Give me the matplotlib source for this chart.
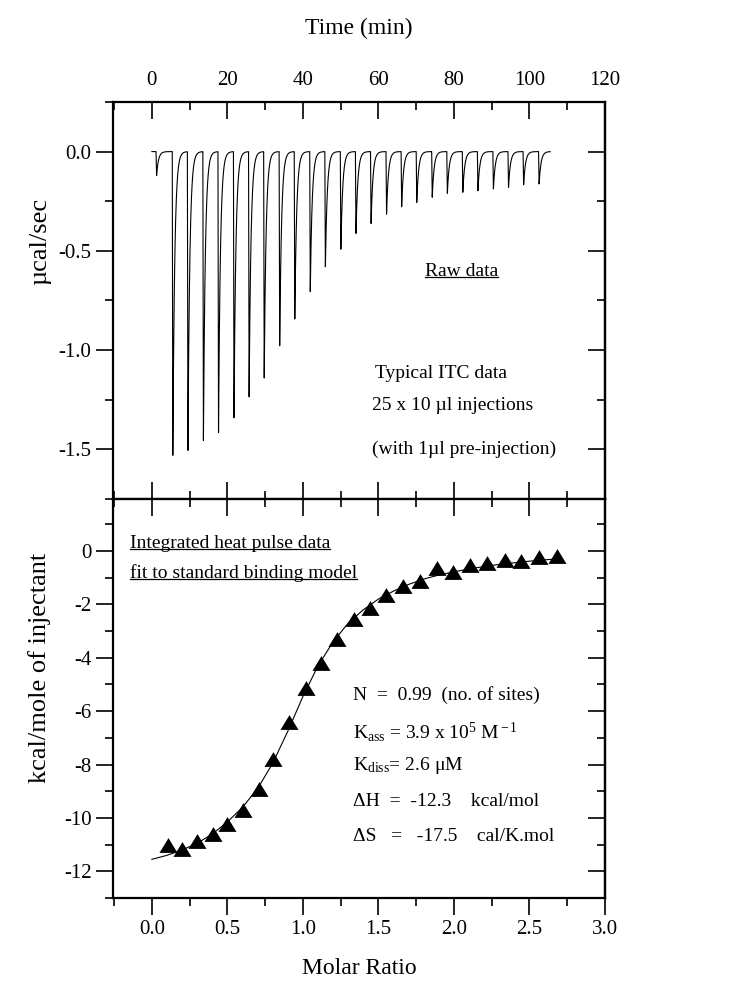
import matplotlib.pyplot as plt
import numpy as np
from matplotlib.ticker import MultipleLocator, FormatStrFormatter
from matplotlib.lines import Line2D

plt.rcParams['font.family'] = ['Liberation Serif', 'DejaVu Serif']
plt.rcParams['mathtext.fontset'] = 'custom'
plt.rcParams['mathtext.rm'] = 'Liberation Serif'
plt.rcParams['mathtext.it'] = 'Liberation Serif:italic'
plt.rcParams['axes.unicode_minus'] = False

# raw data: injection times (min) and peak heights (ucal/sec), first one is the 1 ul pre-injection
inj_time = [1.1, 5.4, 9.4, 13.5, 17.5, 21.6, 25.6, 29.6, 33.7, 37.7, 41.8, 45.8, 49.9,
            53.9, 57.9, 62.0, 66.0, 70.0, 74.1, 78.1, 82.2, 86.2, 90.3, 94.3, 98.3, 102.4]
inj_peak = [-0.12, -1.53, -1.505, -1.455, -1.415, -1.34, -1.235, -1.14, -0.978, -0.843,
            -0.705, -0.58, -0.492, -0.412, -0.362, -0.315, -0.278, -0.256, -0.23, -0.21,
            -0.205, -0.197, -0.188, -0.18, -0.167, -0.163]
t_end = 105.5

# integrated heats (kcal/mole of injectant) vs molar ratio
molar = [0.104, 0.198, 0.302, 0.403, 0.500, 0.606, 0.712, 0.805, 0.910, 1.02, 1.118, 1.224,
         1.338, 1.444, 1.550, 1.660, 1.775, 1.885, 1.995, 2.105, 2.22, 2.337, 2.447, 2.564, 2.679]
heat = [-11.03, -11.15, -10.88, -10.61, -10.24, -9.69, -8.90, -7.78, -6.40, -5.15, -4.19, -3.28,
        -2.55, -2.15, -1.65, -1.30, -1.11, -0.65, -0.78, -0.53, -0.43, -0.34, -0.36, -0.21, -0.18]

# fitted binding curve
fit_x = [0.0, 0.1, 0.2, 0.3, 0.4, 0.5, 0.6, 0.7, 0.8, 0.9, 1.0, 1.1, 1.2, 1.3, 1.4,
         1.5, 1.6, 1.7, 1.8, 1.9, 2.0, 2.1, 2.2, 2.3, 2.4, 2.5, 2.6, 2.7]
fit_y = [-11.55, -11.4, -11.2, -10.95, -10.6, -10.15, -9.6, -8.9, -7.95, -6.75, -5.45, -4.3,
         -3.4, -2.7, -2.2, -1.8, -1.5, -1.25, -1.05, -0.9, -0.78, -0.67, -0.58, -0.5, -0.44,
         -0.38, -0.33, -0.29]

fig = plt.figure(figsize=(7.37, 9.91), dpi=100)
ax1 = fig.add_axes([0.1533, 0.4965, 0.6676, 0.4006])
ax2 = fig.add_axes([0.1533, 0.0938, 0.6676, 0.4027])

# build the thermogram trace from the peaks
t = np.arange(0, t_end, 0.01)
y = np.zeros_like(t)
for t0, h in zip(inj_time, inj_peak):
    s = t - t0
    down = (s >= 0) & (s < 0.15)
    y[down] += h * s[down] / 0.15
    up = s >= 0.15
    y[up] += h * np.exp(-(s[up] - 0.15) / 0.5)
ax1.plot(t, y, color='k', lw=0.8)

tri = [(-1, -0.82), (1, -0.82), (0, 0.82), (-1, -0.82)]
ax2.plot(fit_x, fit_y, color='k', lw=0.8)
ax2.plot(molar, heat, linestyle='none', marker=tri, color='k', markersize=13, markeredgewidth=0)

# axes ranges and ticks
ax1.set_xlim(-10.3, 120)
ax1.set_ylim(-1.75, 0.25)
ax2.set_xlim(-0.2575, 3.0)
ax2.set_ylim(-13, 1.95)

ax1.xaxis.set_major_locator(MultipleLocator(20))
ax1.xaxis.set_minor_locator(MultipleLocator(10))
ax1.yaxis.set_major_locator(MultipleLocator(0.5))
ax1.yaxis.set_minor_locator(MultipleLocator(0.25))
ax1.yaxis.set_major_formatter(FormatStrFormatter('%.1f'))
ax2.xaxis.set_major_locator(MultipleLocator(0.5))
ax2.xaxis.set_minor_locator(MultipleLocator(0.25))
ax2.xaxis.set_major_formatter(FormatStrFormatter('%.1f'))
ax2.yaxis.set_major_locator(MultipleLocator(2))
ax2.yaxis.set_minor_locator(MultipleLocator(1))

fs_tick = 15
for ax in (ax1, ax2):
    for sp in ax.spines.values():
        sp.set_linewidth(1.6)
    ax.tick_params(which='major', length=12, width=1.2, labelsize=fs_tick)
    ax.tick_params(which='minor', length=6, width=1.2)
    ax.tick_params(axis='y', which='both', direction='out', left=True, right=False)

ax1.tick_params(axis='x', which='both', direction='in', top=True, bottom=True,
                labeltop=True, labelbottom=False)
ax1.tick_params(axis='x', which='major', pad=8.5)
ax2.tick_params(axis='x', which='both', direction='out', top=False, bottom=True)

# inward ticks on the right of both panels and on top of the lower one
for ax, maj, mnr in ((ax1, 0.5, 0.25), (ax2, 2, 1)):
    sec = ax.secondary_yaxis('right')
    sec.yaxis.set_major_locator(MultipleLocator(maj))
    sec.yaxis.set_minor_locator(MultipleLocator(mnr))
    sec.tick_params(which='both', direction='in', labelright=False, width=1.2)
    sec.tick_params(which='major', length=12)
    sec.tick_params(which='minor', length=6)
    sec.spines['right'].set_linewidth(1.6)
top2 = ax2.secondary_xaxis('top')
top2.xaxis.set_major_locator(MultipleLocator(0.5))
top2.xaxis.set_minor_locator(MultipleLocator(0.25))
top2.tick_params(which='both', direction='in', labeltop=False, width=1.2)
top2.tick_params(which='major', length=12)
top2.tick_params(which='minor', length=6)

fig.text(0.1533 + 0.6676 / 2, 0.9717, 'Time (min)', fontsize=17, ha='center', va='center')
ax2.set_xlabel('Molar Ratio', fontsize=17, labelpad=14)
fig.text(0.054, 0.756, '\u00b5cal/sec', rotation=90, fontsize=19, ha='center', va='center')
fig.text(0.054, 0.326, 'kcal/mole of injectant', rotation=90, fontsize=19, ha='center', va='center')

fs = 14
raw = ax1.text(72.3, -0.605, 'Raw data', fontsize=fs, va='center')
ax1.text(59.0, -1.12, 'Typical ITC data', fontsize=fs, va='center')
ax1.text(58.2, -1.28, '25 x 10 \u00b5l injections', fontsize=fs, va='center')
ax1.text(58.2, -1.50, '(with 1\u00b5l pre-injection)', fontsize=fs, va='center')

l1 = ax2.text(-0.146, 0.29, 'Integrated heat pulse data', fontsize=fs, va='center')
l2 = ax2.text(-0.146, -0.83, 'fit to standard binding model', fontsize=fs, va='center')
px = 1.33
ax2.text(px, -5.38, 'N  =  0.99  (no. of sites)', fontsize=fs, va='center')
ax2.text(px, -6.8, r'K$_{\rm ass}$ = 3.9 x 10$^{5}$ M$^{\rm -1}$', fontsize=fs, va='center')
ax2.text(px, -8.04, r'K$_{\rm diss}$= 2.6 $\mathrm{\mu}$M', fontsize=fs, va='center')
ax2.text(px, -9.37, '\u0394H  =  -12.3    kcal/mol', fontsize=fs, va='center')
ax2.text(px, -10.68, '\u0394S   =   -17.5    cal/K.mol', fontsize=fs, va='center')

# underline the headings
fig.canvas.draw()
inv = fig.transFigure.inverted()
for txt in (raw, l1, l2):
    bb = txt.get_window_extent()
    (x0, y0), (x1, _) = inv.transform([(bb.x0, bb.y0 + 3), (bb.x1, bb.y0 + 3)])
    fig.add_artist(Line2D([x0, x1], [y0, y0], transform=fig.transFigure, color='k', lw=0.9))

fig.savefig('out.png', dpi=100)
